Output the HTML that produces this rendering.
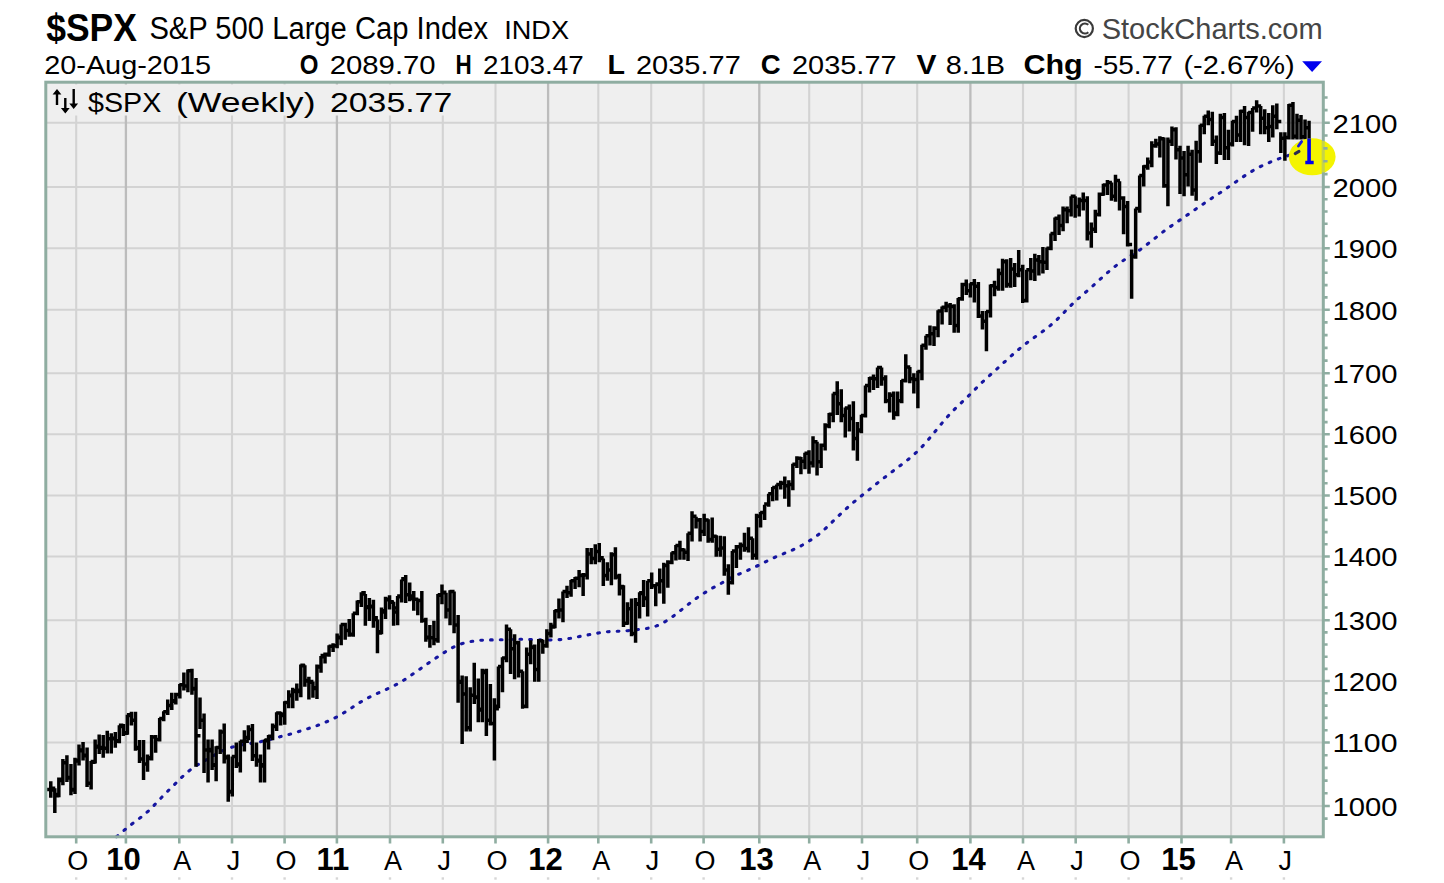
<!DOCTYPE html><html><head><meta charset="utf-8"><style>html,body{margin:0;padding:0;background:#fff;width:1444px;height:883px;overflow:hidden}svg{display:block}text{font-family:"Liberation Sans",sans-serif}</style></head><body>
<svg width="1444" height="883" viewBox="0 0 1444 883">
<rect x="0" y="0" width="1444" height="883" fill="#fff"/>
<rect x="45.8" y="82.2" width="1277.5" height="754.5999999999999" fill="#efefef"/>
<path d="M45.8 806.0H1323.3M45.8 742.5H1323.3M45.8 681.0H1323.3M45.8 620.2H1323.3M45.8 556.5H1323.3M45.8 495.5H1323.3M45.8 434.3H1323.3M45.8 373.3H1323.3M45.8 309.7H1323.3M45.8 248.2H1323.3M45.8 187.0H1323.3M45.8 122.7H1323.3" stroke="#d3d3d3" stroke-width="2.1" fill="none"/>
<path d="M76.2 82.2V836.8M179.3 82.2V836.8M232 82.2V836.8M284.6 82.2V836.8M390 82.2V836.8M442.8 82.2V836.8M495.5 82.2V836.8M598.3 82.2V836.8M651.2 82.2V836.8M703.6 82.2V836.8M809.2 82.2V836.8M862 82.2V836.8M917.2 82.2V836.8M1023 82.2V836.8M1075.7 82.2V836.8M1128.6 82.2V836.8M1231.1 82.2V836.8M1283.9 82.2V836.8" stroke="#d3d3d3" stroke-width="2.1" fill="none"/>
<path d="M125.9 82.2V836.8M336.9 82.2V836.8M548.1 82.2V836.8M759.3 82.2V836.8M970.4 82.2V836.8M1181.5 82.2V836.8" stroke="#bcbcbc" stroke-width="2.3" fill="none"/>
<rect x="48" y="84.5" width="410" height="31" fill="#efefef"/>
<polyline points="116.5,836.7 118.5,835.1 120.5,833.4 122.5,831.7 124.5,830.0 126.5,828.4 128.5,826.7 130.5,825.1 132.5,823.6 134.5,822.1 136.5,820.6 138.5,819.1 140.5,817.6 142.5,816.0 144.5,814.4 146.5,812.7 148.5,810.9 150.5,809.0 152.5,807.0 154.5,804.9 156.5,802.8 158.5,800.7 160.5,798.6 162.5,796.5 164.5,794.4 166.5,792.4 168.5,790.4 170.5,788.4 172.5,786.4 174.5,784.5 176.5,782.5 178.5,780.5 180.5,778.5 182.5,776.6 184.5,774.8 186.5,773.0 188.5,771.3 190.5,769.7 192.5,768.2 194.5,766.8 196.5,765.6 198.5,764.3 200.5,763.2 202.5,762.0 204.5,760.9 206.5,759.7 208.5,758.6 210.5,757.4 212.5,756.2 214.5,755.1 216.5,753.9 218.5,752.8 220.5,751.8 222.5,750.8 224.5,750.0 226.5,749.1 228.5,748.4 230.5,747.7 232.5,747.1 234.5,746.5 236.5,746.0 238.5,745.5 240.5,745.1 242.5,744.7 244.5,744.4 246.5,744.0 248.5,743.7 250.5,743.4 252.5,743.1 254.5,742.8 256.5,742.4 258.5,742.1 260.5,741.7 262.5,741.2 264.5,740.8 266.5,740.3 268.5,739.8 270.5,739.3 272.5,738.7 274.5,738.2 276.5,737.7 278.5,737.2 280.5,736.6 282.5,736.1 284.5,735.6 286.5,735.1 288.5,734.5 290.5,734.0 292.5,733.4 294.5,732.8 296.5,732.2 298.5,731.6 300.5,731.0 302.5,730.4 304.5,729.7 306.5,729.1 308.5,728.5 310.5,727.8 312.5,727.2 314.5,726.5 316.5,725.8 318.5,725.0 320.5,724.3 322.5,723.5 324.5,722.6 326.5,721.8 328.5,720.9 330.5,720.0 332.5,719.0 334.5,718.0 336.5,717.0 338.5,715.9 340.5,714.8 342.5,713.6 344.5,712.4 346.5,711.2 348.5,709.9 350.5,708.6 352.5,707.3 354.5,705.9 356.5,704.6 358.5,703.3 360.5,702.1 362.5,700.9 364.5,699.7 366.5,698.6 368.5,697.6 370.5,696.6 372.5,695.7 374.5,694.8 376.5,693.8 378.5,692.9 380.5,692.1 382.5,691.2 384.5,690.3 386.5,689.4 388.5,688.4 390.5,687.5 392.5,686.5 394.5,685.5 396.5,684.5 398.5,683.4 400.5,682.2 402.5,681.0 404.5,679.7 406.5,678.4 408.5,677.1 410.5,675.7 412.5,674.3 414.5,672.9 416.5,671.5 418.5,670.1 420.5,668.7 422.5,667.3 424.5,665.8 426.5,664.4 428.5,663.1 430.5,661.7 432.5,660.3 434.5,659.0 436.5,657.6 438.5,656.3 440.5,655.0 442.5,653.7 444.5,652.4 446.5,651.1 448.5,649.9 450.5,648.7 452.5,647.6 454.5,646.6 456.5,645.7 458.5,644.9 460.5,644.1 462.5,643.5 464.5,643.0 466.5,642.5 468.5,642.0 470.5,641.6 472.5,641.3 474.5,641.0 476.5,640.7 478.5,640.5 480.5,640.3 482.5,640.2 484.5,640.1 486.5,640.0 488.5,640.0 490.5,639.9 492.5,639.9 494.5,639.9 496.5,639.9 498.5,639.9 500.5,639.8 502.5,639.8 504.5,639.8 506.5,639.7 508.5,639.6 510.5,639.6 512.5,639.5 514.5,639.4 516.5,639.3 518.5,639.3 520.5,639.2 522.5,639.2 524.5,639.3 526.5,639.4 528.5,639.5 530.5,639.6 532.5,639.7 534.5,639.7 536.5,639.8 538.5,639.9 540.5,639.9 542.5,640.0 544.5,640.0 546.5,640.0 548.5,640.0 550.5,640.0 552.5,639.9 554.5,639.9 556.5,639.8 558.5,639.7 560.5,639.6 562.5,639.4 564.5,639.2 566.5,638.9 568.5,638.6 570.5,638.3 572.5,637.9 574.5,637.5 576.5,637.1 578.5,636.7 580.5,636.3 582.5,635.9 584.5,635.5 586.5,635.2 588.5,634.8 590.5,634.4 592.5,634.0 594.5,633.7 596.5,633.3 598.5,633.0 600.5,632.6 602.5,632.3 604.5,632.1 606.5,631.8 608.5,631.7 610.5,631.5 612.5,631.4 614.5,631.3 616.5,631.2 618.5,631.2 620.5,631.1 622.5,631.0 624.5,630.9 626.5,630.7 628.5,630.6 630.5,630.4 632.5,630.2 634.5,629.9 636.5,629.7 638.5,629.5 640.5,629.2 642.5,629.0 644.5,628.7 646.5,628.5 648.5,628.1 650.5,627.7 652.5,627.2 654.5,626.6 656.5,625.9 658.5,625.1 660.5,624.2 662.5,623.2 664.5,622.0 666.5,620.8 668.5,619.5 670.5,618.1 672.5,616.7 674.5,615.2 676.5,613.7 678.5,612.1 680.5,610.5 682.5,609.0 684.5,607.4 686.5,605.8 688.5,604.2 690.5,602.7 692.5,601.2 694.5,599.7 696.5,598.2 698.5,596.8 700.5,595.5 702.5,594.1 704.5,592.9 706.5,591.6 708.5,590.4 710.5,589.3 712.5,588.1 714.5,587.0 716.5,585.9 718.5,584.8 720.5,583.7 722.5,582.6 724.5,581.5 726.5,580.4 728.5,579.3 730.5,578.2 732.5,577.2 734.5,576.2 736.5,575.2 738.5,574.3 740.5,573.5 742.5,572.6 744.5,571.8 746.5,570.9 748.5,570.0 750.5,569.1 752.5,568.2 754.5,567.3 756.5,566.3 758.5,565.3 760.5,564.3 762.5,563.3 764.5,562.3 766.5,561.3 768.5,560.3 770.5,559.3 772.5,558.4 774.5,557.5 776.5,556.6 778.5,555.7 780.5,554.9 782.5,554.1 784.5,553.3 786.5,552.5 788.5,551.7 790.5,550.8 792.5,550.0 794.5,549.1 796.5,548.2 798.5,547.2 800.5,546.1 802.5,545.0 804.5,543.8 806.5,542.6 808.5,541.4 810.5,540.1 812.5,538.8 814.5,537.4 816.5,536.0 818.5,534.5 820.5,532.9 822.5,531.2 824.5,529.4 826.5,527.6 828.5,525.7 830.5,523.7 832.5,521.7 834.5,519.8 836.5,517.8 838.5,515.9 840.5,514.0 842.5,512.1 844.5,510.3 846.5,508.5 848.5,506.7 850.5,504.9 852.5,503.2 854.5,501.5 856.5,499.9 858.5,498.2 860.5,496.6 862.5,495.0 864.5,493.4 866.5,491.8 868.5,490.2 870.5,488.6 872.5,487.0 874.5,485.4 876.5,483.8 878.5,482.2 880.5,480.6 882.5,479.1 884.5,477.5 886.5,476.0 888.5,474.4 890.5,472.9 892.5,471.4 894.5,469.9 896.5,468.4 898.5,466.9 900.5,465.4 902.5,463.9 904.5,462.4 906.5,460.8 908.5,459.2 910.5,457.6 912.5,455.9 914.5,454.1 916.5,452.2 918.5,450.3 920.5,448.3 922.5,446.2 924.5,444.0 926.5,441.8 928.5,439.5 930.5,437.1 932.5,434.7 934.5,432.2 936.5,429.8 938.5,427.3 940.5,424.9 942.5,422.5 944.5,420.1 946.5,417.8 948.5,415.6 950.5,413.4 952.5,411.3 954.5,409.3 956.5,407.3 958.5,405.4 960.5,403.5 962.5,401.6 964.5,399.7 966.5,397.8 968.5,395.9 970.5,393.9 972.5,391.9 974.5,389.9 976.5,387.9 978.5,385.9 980.5,383.9 982.5,382.0 984.5,380.1 986.5,378.3 988.5,376.5 990.5,374.7 992.5,372.9 994.5,371.1 996.5,369.3 998.5,367.5 1000.5,365.7 1002.5,363.8 1004.5,362.0 1006.5,360.2 1008.5,358.3 1010.5,356.5 1012.5,354.8 1014.5,353.0 1016.5,351.3 1018.5,349.6 1020.5,347.9 1022.5,346.3 1024.5,344.7 1026.5,343.2 1028.5,341.6 1030.5,340.2 1032.5,338.7 1034.5,337.3 1036.5,335.9 1038.5,334.4 1040.5,333.0 1042.5,331.6 1044.5,330.1 1046.5,328.6 1048.5,327.0 1050.5,325.4 1052.5,323.6 1054.5,321.8 1056.5,320.0 1058.5,318.0 1060.5,316.0 1062.5,314.0 1064.5,312.0 1066.5,309.9 1068.5,307.9 1070.5,305.9 1072.5,303.9 1074.5,302.0 1076.5,300.2 1078.5,298.4 1080.5,296.6 1082.5,294.9 1084.5,293.2 1086.5,291.5 1088.5,289.7 1090.5,288.0 1092.5,286.2 1094.5,284.4 1096.5,282.6 1098.5,280.8 1100.5,278.9 1102.5,277.1 1104.5,275.3 1106.5,273.6 1108.5,271.8 1110.5,270.1 1112.5,268.5 1114.5,266.8 1116.5,265.3 1118.5,263.8 1120.5,262.4 1122.5,261.0 1124.5,259.7 1126.5,258.4 1128.5,257.2 1130.5,255.9 1132.5,254.7 1134.5,253.4 1136.5,252.1 1138.5,250.8 1140.5,249.4 1142.5,247.9 1144.5,246.4 1146.5,244.9 1148.5,243.3 1150.5,241.8 1152.5,240.2 1154.5,238.6 1156.5,237.0 1158.5,235.4 1160.5,233.8 1162.5,232.3 1164.5,230.8 1166.5,229.3 1168.5,227.9 1170.5,226.5 1172.5,225.1 1174.5,223.7 1176.5,222.4 1178.5,221.0 1180.5,219.7 1182.5,218.3 1184.5,217.0 1186.5,215.6 1188.5,214.2 1190.5,212.8 1192.5,211.4 1194.5,210.0 1196.5,208.6 1198.5,207.2 1200.5,205.8 1202.5,204.5 1204.5,203.1 1206.5,201.7 1208.5,200.4 1210.5,199.1 1212.5,197.7 1214.5,196.4 1216.5,195.1 1218.5,193.8 1220.5,192.5 1222.5,191.1 1224.5,189.8 1226.5,188.4 1228.5,187.0 1230.5,185.6 1232.5,184.2 1234.5,182.8 1236.5,181.4 1238.5,180.0 1240.5,178.6 1242.5,177.3 1244.5,175.9 1246.5,174.6 1248.5,173.4 1250.5,172.1 1252.5,170.9 1254.5,169.7 1256.5,168.6 1258.5,167.6 1260.5,166.5 1262.5,165.6 1264.5,164.6 1266.5,163.7 1268.5,162.9 1270.5,162.0 1272.5,161.2 1274.5,160.4 1276.5,159.7 1278.5,158.9 1280.5,158.2 1282.5,157.5 1284.5,156.8 1286.5,156.2 1288.5,155.5 1290.5,154.9 1292.5,154.3 1294.5,153.7 1296.5,153.2 1296.6,153.1" fill="none" stroke="#1616a0" stroke-width="3.1" stroke-linecap="round" stroke-dasharray="1.7 8.1"/>
<path d="M50.78 781.24V797.84M46.28 789.49H50.78M50.78 788.22H55.28M54.81 788.22V813.08M50.31 790.12H54.81M54.81 795.84H59.31M58.85 777.42V797.21M54.35 794.57H58.85M58.85 779.33H63.35M62.88 759.01V785.14M58.38 780.60H62.88M62.88 762.82H67.38M66.91 755.20V781.97M62.41 762.82H66.91M66.91 778.06H71.41M70.95 764.09V795.30M66.45 777.42H70.95M70.95 790.12H75.45M74.98 757.74V794.03M70.48 789.49H74.98M74.98 760.91H79.48M79.01 744.40V765.46M74.51 760.28H79.01M79.01 750.75H83.51M83.05 741.88V760.38M78.55 750.12H83.05M83.05 755.84H87.55M87.08 747.58V787.04M82.58 755.20H87.08M87.08 783.14H91.58M91.11 760.91V789.59M86.61 783.14H91.11M91.11 762.18H95.61M95.15 739.42V763.55M90.65 761.55H95.15M95.15 746.95H99.65M99.18 734.50V754.02M94.68 746.31H99.18M99.18 748.22H103.68M103.21 735.12V757.84M98.71 747.58H103.21M103.21 748.22H107.71M107.24 730.82V753.39M102.74 748.22H107.24M107.24 738.81H111.74M111.28 733.27V753.39M106.78 738.81H111.28M111.28 738.81H115.78M115.31 732.04V747.67M110.81 738.20H115.31M115.31 741.27H119.81M119.34 725.28V743.27M114.84 740.65H119.34M119.34 726.51H123.84M123.38 724.05V735.89M118.88 725.28H123.38M123.38 733.27H127.88M127.41 714.83V734.66M122.91 732.66H127.41M127.41 715.44H131.91M131.44 711.75V725.43M126.94 714.83H131.44M131.44 720.36H135.94M135.48 711.75V750.85M130.98 720.36H135.48M135.48 748.22H139.98M139.51 740.04V762.91M135.01 747.58H139.51M139.51 759.01H144.01M143.54 740.04V780.06M139.04 759.01H143.54M143.54 764.09H148.04M147.57 754.57V771.80M143.07 764.09H147.57M147.57 758.38H152.07M151.61 735.12V760.38M147.11 757.74H151.61M151.61 736.97H156.11M155.64 735.12V752.75M151.14 736.97H155.64M155.64 739.42H160.14M159.67 717.90V741.42M155.17 739.42H159.67M159.67 718.51H164.17M163.71 711.13V721.13M159.21 718.51H163.71M163.71 711.75H168.21M167.74 699.45V714.98M163.24 711.75H167.74M167.74 705.60H172.24M171.77 692.68V710.06M167.27 705.60H171.77M171.77 701.29H176.27M175.81 692.68V704.52M171.31 700.68H175.81M175.81 694.53H180.31M179.84 684.08V698.38M175.34 694.53H179.84M179.84 684.69H184.34M183.87 672.49V690.38M179.37 684.69H183.87M183.87 685.92H188.37M187.90 669.45V692.23M183.40 685.92H187.90M187.90 670.66H192.40M191.94 668.84V694.68M187.44 670.66H191.94M191.94 689.00H196.44M195.97 677.96V766.73M191.47 688.38H195.97M195.97 735.74H200.47M200.00 697.61V729.12M195.50 735.74H200.00M200.00 720.36H204.50M204.04 713.60V773.08M199.54 720.36H204.04M204.04 750.12H208.54M208.07 739.42V782.60M203.57 750.12H208.07M208.07 749.49H212.57M212.10 739.42V769.90M207.60 750.75H212.10M212.10 765.36H216.60M216.13 746.31V781.33M211.63 764.73H216.13M216.13 747.58H220.63M220.17 729.59V754.02M215.67 747.58H220.17M220.17 732.04H224.67M224.20 723.43V763.55M219.70 732.04H224.20M224.20 757.74H228.70M228.23 754.57V801.65M223.73 757.11H228.23M228.23 792.03H232.73M232.27 756.47V796.57M227.77 791.39H232.27M232.27 756.47H236.77M236.30 742.50V768.00M231.80 756.47H236.30M236.30 764.73H240.80M240.33 740.65V772.44M235.83 764.09H240.33M240.33 741.27H244.83M244.37 730.20V751.49M239.87 741.27H244.37M244.37 741.27H248.87M248.40 725.28V740.20M243.90 737.58H248.40M248.40 729.59H252.90M252.43 724.05V761.01M247.93 729.59H252.43M252.43 755.84H256.93M256.47 742.50V766.73M251.97 755.84H256.47M256.47 760.91H260.97M260.50 754.57V782.60M256.00 760.28H260.50M260.50 764.73H265.00M264.53 739.42V782.60M260.03 766.00H264.53M264.53 740.04H269.03M268.56 735.12V749.58M264.06 740.65H268.56M268.56 736.35H273.06M272.60 723.43V740.20M268.10 736.35H272.60M272.60 726.51H277.10M276.63 712.37V730.97M272.13 726.51H276.63M276.63 712.98H281.13M280.66 711.75V725.43M276.16 712.98H280.66M280.66 714.21H285.16M284.70 701.29V724.82M280.20 715.44H284.70M284.70 702.52H289.20M288.73 690.23V708.22M284.23 702.52H288.73M288.73 695.76H293.23M292.76 687.76V708.22M288.26 695.14H292.76M292.76 691.46H297.26M296.80 683.46V700.84M292.30 690.84H296.80M296.80 691.46H301.30M300.83 664.58V697.14M296.33 690.23H300.83M300.83 665.80H305.33M304.86 665.19V686.69M300.36 665.19H304.86M304.86 681.00H309.36M308.89 676.74V699.61M304.39 680.39H308.89M308.89 681.62H313.39M312.93 681.62V697.76M308.43 682.23H312.93M312.93 687.76H317.43M316.96 664.58V698.99M312.46 688.38H316.96M316.96 666.41H321.46M320.99 656.07V672.66M316.49 667.02H320.99M320.99 656.68H325.49M325.03 652.42V663.54M320.53 655.46H325.03M325.03 654.86H329.53M329.06 645.13V656.86M324.56 654.25H329.06M329.06 646.34H333.56M333.09 643.30V651.99M328.59 646.34H333.09M333.09 645.74H337.59M337.13 633.58V648.34M332.63 645.74H337.13M337.13 637.22H341.63M341.16 624.46V645.30M336.66 637.83H341.16M341.16 624.46H345.66M345.19 622.63V639.83M340.69 624.46H345.19M345.19 630.54H349.69M349.22 618.93V636.79M344.72 630.54H349.22M349.22 634.79H353.72M353.26 613.19V636.79M348.76 634.18H353.26M353.26 613.19H357.76M357.29 600.45V615.19M352.79 613.19H357.29M357.29 601.73H361.79M361.32 592.17V606.91M356.82 601.73H361.32M361.32 592.81H365.82M365.36 594.08V625.85M360.86 594.08H365.36M365.36 607.46H369.86M369.39 597.90V620.93M364.89 606.82H369.39M369.39 606.82H373.89M373.42 599.82V627.67M368.92 606.19H373.42M373.42 617.65H377.92M377.46 619.56V653.21M372.96 619.56H377.46M377.46 632.97H381.96M381.49 607.46V634.36M376.99 631.75H381.49M381.49 611.92H385.99M385.52 596.63V619.02M381.02 610.64H385.52M385.52 599.82H390.02M389.55 595.36V609.46M385.05 599.18H389.55M389.55 602.36H394.05M393.59 601.73V625.85M389.09 601.73H393.59M393.59 608.10H398.09M397.62 595.99V625.24M393.12 611.92H397.62M397.62 596.63H402.12M401.65 579.43V602.45M397.15 595.99H401.65M401.65 579.43H406.15M405.69 574.97V603.09M401.19 578.80H405.69M405.69 594.72H410.19M409.72 582.62V601.18M405.22 594.72H409.72M409.72 595.99H414.22M413.75 590.90V610.73M409.25 598.54H413.75M413.75 599.18H418.25M417.79 598.54V615.19M413.29 599.18H417.79M417.79 600.45H422.29M421.82 590.90V622.81M417.32 600.45H421.82M421.82 620.20H426.32M425.85 617.65V641.66M421.35 620.20H425.85M425.85 637.83H430.35M429.88 625.06V647.74M425.38 637.22H429.88M429.88 637.83H434.38M433.92 620.81V645.30M429.42 637.83H433.92M433.92 639.66H438.42M437.95 594.08V642.87M433.45 639.66H437.95M437.95 594.72H442.45M441.98 584.53V604.36M437.48 595.36H441.98M441.98 592.17H446.48M446.02 592.81V618.38M441.52 592.81H446.02M446.02 610.01H450.52M450.05 590.26V625.24M445.55 610.01H450.05M450.05 591.54H454.55M454.08 591.54V633.14M449.58 591.54H454.08M454.08 625.06H458.58M458.12 615.10V702.68M453.62 625.06H458.12M458.12 681.62H462.62M462.15 675.53V743.88M457.65 682.23H462.15M462.15 693.91H466.65M466.18 676.14V731.59M461.68 693.91H466.18M466.18 727.74H470.68M470.21 687.15V731.59M465.71 727.74H470.21M470.21 695.14H474.71M474.25 662.76V703.91M469.75 695.14H474.25M474.25 696.99H478.75M478.28 678.57V722.36M473.78 697.61H478.28M478.28 709.29H482.78M482.31 668.84V722.36M477.81 709.90H482.31M482.31 671.27H486.81M486.35 668.84V735.89M481.85 672.49H486.35M486.35 720.36H490.85M490.38 684.08V725.43M485.88 720.36H490.38M490.38 723.43H494.88M494.41 698.22V760.38M489.91 723.43H494.41M494.41 708.67H498.91M498.45 666.41V708.22M493.95 706.22H498.45M498.45 666.41H502.95M502.48 657.29V692.23M497.98 666.41H502.48M502.48 657.90H506.98M506.51 624.46V662.33M502.01 657.90H506.51M506.51 629.32H511.01M510.54 629.32V673.88M506.04 629.32H510.54M510.54 648.78H515.04M514.58 634.18V679.35M510.08 648.78H514.58M514.58 642.70H519.08M518.61 640.87V677.53M514.11 642.70H518.61M518.61 671.27H523.11M522.64 671.27V708.83M518.14 671.27H522.64M522.64 706.22H527.14M526.68 647.56V708.22M522.18 706.22H526.68M526.68 654.25H531.18M530.71 640.26V664.15M526.21 654.25H530.71M530.71 647.56H535.21M534.74 644.52V681.78M530.24 646.95H534.74M534.74 669.45H539.24M538.77 639.05V681.78M534.27 669.45H538.77M538.77 640.87H543.27M542.81 639.66V653.82M538.31 640.87H542.81M542.81 645.74H547.31M546.84 629.32V647.74M542.34 645.74H546.84M546.84 633.58H551.34M550.87 622.63V637.40M546.37 633.58H550.87M550.87 626.89H555.37M554.91 610.01V628.28M550.41 626.28H554.91M554.91 610.64H559.41M558.94 598.54V618.38M554.44 610.64H558.94M558.94 610.01H563.44M562.97 591.54V622.20M558.47 610.01H562.97M562.97 591.54H567.47M567.01 585.80V597.99M562.51 591.54H567.01M567.01 592.81H571.51M571.04 580.07V596.72M566.54 592.81H571.04M571.04 580.71H575.54M575.07 576.88V589.08M570.57 580.71H575.07M575.07 578.16H579.57M579.11 569.88V587.16M574.61 578.16H579.11M579.11 575.61H583.61M583.14 573.06V596.08M578.64 575.61H583.14M583.14 574.97H587.64M587.17 547.96V579.52M582.67 574.97H587.17M587.17 554.06H591.67M591.20 547.96V564.23M586.70 554.06H591.20M591.20 558.41H595.70M595.24 544.30V564.23M590.74 558.41H595.24M595.24 551.62H599.74M599.27 543.08V562.32M594.77 551.62H599.27M599.27 557.77H603.77M603.30 558.41V585.89M598.80 558.41H603.30M603.30 575.61H607.80M607.34 562.23V580.80M602.84 575.61H607.34M607.34 569.88H611.84M611.37 552.23V585.25M606.87 569.88H611.37M611.37 554.67H615.87M615.40 547.35V579.52M610.90 554.67H615.40M615.40 576.25H619.90M619.44 573.70V595.45M614.94 576.88H619.44M619.44 586.44H623.94M623.47 585.16V627.06M618.97 587.71H623.47M623.47 623.24H627.97M627.50 602.36V624.63M623.00 623.24H627.50M627.50 608.73H632.00M631.53 598.54V636.18M627.03 608.73H631.53M631.53 633.58H636.03M635.57 597.90V642.87M631.07 633.58H635.57M635.57 604.28H640.07M639.60 592.17V618.38M635.10 603.64H639.60M639.60 593.45H644.10M643.63 580.07V606.91M639.13 592.81H643.63M643.63 597.90H648.13M647.67 580.71V616.47M643.17 598.54H647.67M647.67 580.71H652.17M651.70 572.42V589.08M647.20 580.71H651.70M651.70 585.80H656.20M655.73 583.89V606.28M651.23 585.80H655.73M655.73 584.53H660.23M659.77 568.60V593.54M655.27 583.89H659.77M659.77 580.71H664.27M663.80 562.87V603.73M659.30 580.71H663.80M663.80 565.42H668.30M667.83 560.32V587.80M663.33 565.42H667.83M667.83 562.23H672.33M671.86 552.23V564.23M667.36 562.23H671.86M671.86 552.84H676.36M675.90 544.91V560.41M671.40 552.84H675.90M675.90 545.52H680.40M679.93 540.64V559.77M675.43 545.52H679.93M679.93 549.79H684.43M683.96 548.57V559.77M679.46 549.79H683.96M683.96 552.23H688.46M688.00 533.32V561.05M683.50 552.23H688.00M688.00 533.32H692.50M692.03 511.36V541.42M687.53 533.32H692.03M692.03 516.24H696.53M696.06 516.85V528.61M691.56 516.24H696.06M696.06 519.90H700.56M700.10 518.07V541.42M695.60 519.90H700.10M700.10 531.49H704.60M704.13 513.80V535.93M699.63 531.49H704.13M704.13 519.90H708.63M708.16 519.29V542.64M703.66 519.90H708.16M708.16 539.42H712.66M712.19 517.46V542.64M707.69 539.42H712.19M712.19 536.37H716.69M716.23 535.15V556.67M711.73 536.37H716.23M716.23 549.18H720.73M720.26 535.76V556.67M715.76 549.18H720.26M720.26 547.96H724.76M724.29 536.37V575.70M719.79 547.96H724.29M724.29 569.88H728.79M728.33 564.14V594.81M723.83 569.88H728.33M728.33 582.62H732.83M732.36 551.01V584.62M727.86 582.62H732.36M732.36 551.01H736.86M736.39 544.91V568.06M731.89 551.01H736.39M736.39 546.74H740.89M740.43 542.47V559.77M735.93 546.74H740.43M740.43 545.52H744.93M744.46 532.71V551.79M739.96 545.52H744.46M744.46 548.57H748.96M748.49 527.22V552.40M743.99 548.57H748.49M748.49 538.20H752.99M752.52 538.20V559.77M748.02 538.20H752.52M752.52 555.28H757.02M756.56 513.80V559.77M752.06 555.28H756.56M756.56 516.24H761.06M760.59 511.97V527.39M756.09 516.24H760.59M760.59 512.58H765.09M764.62 504.65V520.07M760.12 512.58H764.62M764.62 504.04H769.12M768.66 493.66V506.65M764.16 504.04H768.66M768.66 493.66H773.16M772.69 486.93V501.16M768.19 493.66H772.69M772.69 487.54H777.19M776.72 484.48V500.55M772.22 487.54H776.72M776.72 484.48H781.22M780.76 480.81V489.54M776.26 484.48H780.76M780.76 483.26H785.26M784.79 476.53V498.72M780.29 483.26H784.79M784.79 485.71H789.29M788.82 480.20V506.65M784.32 485.71H788.82M788.82 484.48H793.32M792.85 463.68V490.16M788.35 484.48H792.85M792.85 464.29H797.35M796.89 456.33V468.12M792.39 464.29H796.89M796.89 458.17H801.39M800.92 456.94V474.24M796.42 458.17H800.92M800.92 461.23H805.42M804.95 452.66V469.35M800.45 461.23H804.95M804.95 453.27H809.45M808.99 450.21V473.63M804.49 453.27H808.99M808.99 463.06H813.49M813.02 436.14V467.51M808.52 463.06H813.02M813.02 441.64H817.52M817.05 441.64V475.47M812.55 441.64H817.05M817.05 461.84H821.55M821.09 443.48V468.12M816.59 461.84H821.09M821.09 445.32H825.59M825.12 423.32V450.38M820.62 445.32H825.12M825.12 425.76H829.62M829.15 412.95V428.37M824.65 425.76H829.15M829.15 414.17H833.65M833.18 393.43V422.27M828.68 414.17H833.18M833.18 393.43H837.68M837.22 381.23V414.95M832.72 393.43H837.22M837.22 403.80H841.72M841.25 389.16V422.27M836.75 403.80H841.25M841.25 415.39H845.75M845.28 407.46V437.52M840.78 415.39H845.28M845.28 408.07H849.78M849.32 404.41V431.42M844.82 408.07H849.32M849.32 418.44H853.82M853.35 401.36V450.38M848.85 418.44H853.35M853.35 438.58H857.85M857.38 422.10V460.78M852.88 438.58H857.38M857.38 430.64H861.88M861.42 414.78V433.25M856.92 430.03H861.42M861.42 415.39H865.92M865.45 385.50V417.39M860.95 415.39H865.45M865.45 385.50H869.95M869.48 376.96V392.38M864.98 385.50H869.48M869.48 378.18H873.98M873.51 374.52V389.94M869.01 378.18H873.51M873.51 378.79H878.01M877.55 367.58V388.11M873.05 378.79H877.55M877.55 367.58H882.05M881.58 367.58V385.67M877.08 367.58H881.58M881.58 378.79H886.08M885.61 375.13V403.36M881.11 378.79H885.61M885.61 400.75H890.11M889.65 392.21V412.51M885.15 400.75H889.65M889.65 395.26H894.15M893.68 391.60V419.83M889.18 395.26H893.68M893.68 414.17H898.18M897.71 391.60V416.17M893.21 412.95H897.71M897.71 400.75H902.21M901.75 380.01V403.36M897.25 400.75H901.75M901.75 380.62H906.25M905.78 354.22V382.62M901.28 380.62H905.78M905.78 366.94H910.28M909.81 366.94V383.23M905.31 366.94H909.81M909.81 378.79H914.31M913.84 373.30V393.60M909.34 378.79H913.84M913.84 379.40H918.34M917.88 370.76V408.24M913.38 379.40H917.88M917.88 371.39H922.38M921.91 344.68V380.18M917.41 371.39H921.91M921.91 345.32H926.41M925.94 335.78V349.86M921.44 345.32H925.94M925.94 335.78H930.44M929.98 325.60V345.41M925.48 335.78H929.98M929.98 333.87H934.48M934.01 326.24V346.04M929.51 333.87H934.01M934.01 328.14H938.51M938.04 310.34V337.14M933.54 328.14H938.04M938.04 310.97H942.54M942.08 306.62V324.42M937.58 310.97H942.08M942.08 307.24H946.58M946.11 301.70V312.34M941.61 307.24H946.11M946.11 306.01H950.61M950.14 302.94V325.06M945.64 306.01H950.14M950.14 306.62H954.64M954.17 304.16V332.69M949.67 306.62H954.17M954.17 325.60H958.67M958.21 298.01V332.69M953.71 325.60H958.21M958.21 298.63H962.71M962.24 282.64V300.63M957.74 298.63H962.24M962.24 284.49H966.74M966.27 279.56V295.09M961.77 284.49H966.27M966.27 290.63H970.77M970.31 283.25V297.56M965.81 290.63H970.31M970.31 283.87H974.81M974.34 278.95V302.47M969.84 283.87H974.34M974.34 286.33H978.84M978.37 282.02V318.06M973.87 286.33H978.37M978.37 316.06H982.87M982.41 310.97V329.51M977.91 316.06H982.41M982.41 321.15H986.91M986.44 310.97V351.13M981.94 321.15H986.44M986.44 311.61H990.94M990.47 284.49V317.42M985.97 311.61H990.47M990.47 285.71H994.97M994.50 280.79V296.32M990.00 285.71H994.50M994.50 287.56H999.00M998.54 268.50V290.79M994.04 287.56H998.54M998.54 273.41H1003.04M1002.57 258.65V290.79M998.07 273.41H1002.57M1002.57 261.73H1007.07M1006.60 259.27V287.71M1002.10 261.73H1006.60M1006.60 284.49H1011.10M1010.64 258.04V287.71M1006.14 284.49H1010.64M1010.64 269.11H1015.14M1014.67 262.96V287.10M1010.17 269.11H1014.67M1014.67 274.64H1019.17M1018.70 250.04V277.26M1014.20 274.64H1018.70M1018.70 269.72H1023.20M1022.74 264.81V303.09M1018.24 269.72H1022.74M1022.74 300.47H1027.24M1026.77 269.72V302.47M1022.27 300.47H1026.77M1026.77 269.72H1031.27M1030.80 258.04V280.33M1026.30 269.72H1030.80M1030.80 270.95H1035.30M1034.83 253.73V280.95M1030.33 270.95H1034.83M1034.83 259.88H1039.33M1038.87 254.96V275.41M1034.37 259.88H1038.87M1038.87 261.73H1043.37M1042.90 246.98V273.57M1038.40 261.73H1042.90M1042.90 262.34H1047.40M1046.93 247.59V269.88M1042.43 262.34H1046.93M1046.93 248.20H1051.43M1050.97 233.51V250.20M1046.47 248.20H1050.97M1050.97 233.51H1055.47M1055.00 217.60V241.02M1050.50 233.51H1055.00M1055.00 218.21H1059.50M1059.03 214.54V234.90M1054.53 218.21H1059.03M1059.03 225.56H1063.53M1063.07 206.58V231.23M1058.57 225.56H1063.07M1063.07 209.64H1067.57M1067.10 206.58V223.27M1062.60 209.64H1067.10M1067.10 210.87H1071.60M1071.13 196.18V216.54M1066.63 210.87H1071.13M1071.13 196.18H1075.63M1075.16 196.18V217.76M1070.66 196.18H1075.16M1075.16 206.58H1079.66M1079.20 197.40V216.54M1074.70 206.58H1079.20M1079.20 200.46H1083.70M1083.23 192.51V210.42M1078.73 200.46H1083.23M1083.23 200.46H1087.73M1087.26 196.18V240.41M1082.76 200.46H1087.26M1087.26 232.90H1091.76M1091.30 222.50V247.75M1086.80 232.90H1091.30M1091.30 229.23H1095.80M1095.33 209.64V233.06M1090.83 229.23H1095.33M1095.33 214.54H1099.83M1099.36 192.51V216.54M1094.86 214.54H1099.36M1099.36 194.34H1103.86M1103.40 183.78V195.73M1098.90 194.34H1103.40M1103.40 185.07H1107.90M1107.43 179.93V195.12M1102.93 185.07H1107.43M1107.43 182.50H1111.93M1111.46 182.50V200.63M1106.96 182.50H1111.46M1111.46 196.18H1115.96M1115.49 174.78V201.85M1110.99 196.18H1115.49M1115.49 180.57H1119.99M1119.53 181.21V210.42M1115.03 180.57H1119.53M1119.53 198.02H1124.03M1123.56 196.18V234.29M1119.06 198.02H1123.56M1123.56 206.58H1128.06M1127.59 201.08V246.53M1123.09 206.58H1127.59M1127.59 244.53H1132.09M1131.63 249.43V298.78M1127.13 244.53H1131.63M1131.63 256.81H1136.13M1135.66 208.42V258.81M1131.16 256.81H1135.66M1135.66 208.42H1140.16M1139.69 175.43V212.87M1135.19 208.42H1139.69M1139.69 175.43H1144.19M1143.73 165.14V186.43M1139.23 175.43H1143.73M1143.73 166.42H1148.23M1147.76 157.42V169.71M1143.26 166.42H1147.76M1147.76 161.92H1152.26M1151.79 141.35V167.14M1147.29 161.92H1151.79M1151.79 145.85H1156.29M1155.82 138.78V147.85M1151.32 145.85H1155.82M1155.82 143.92H1160.32M1159.86 136.20V157.49M1155.36 143.92H1159.86M1159.86 138.78H1164.36M1163.89 137.49V187.71M1159.39 138.78H1163.89M1163.89 185.71H1168.39M1167.92 137.49V206.14M1163.42 185.71H1167.92M1167.92 141.35H1172.42M1171.96 126.56V145.92M1167.46 141.35H1171.96M1171.96 129.77H1176.46M1175.99 127.20V159.42M1171.49 129.77H1175.99M1175.99 149.71H1180.49M1180.02 145.85V193.90M1175.52 149.71H1180.02M1180.02 158.06H1184.52M1184.06 150.99V196.34M1179.56 158.06H1184.06M1184.06 174.78H1188.56M1188.09 145.85V186.43M1183.59 174.78H1188.09M1188.09 154.21H1192.59M1192.12 149.71V195.73M1187.62 154.21H1192.12M1192.12 190.06H1196.62M1196.15 140.70V200.63M1191.65 190.06H1196.15M1196.15 151.63H1200.65M1200.19 124.63V162.64M1195.69 151.63H1200.19M1200.19 125.27H1204.69M1204.22 115.63V134.34M1199.72 125.27H1204.22M1204.22 116.27H1208.72M1208.25 110.48V125.34M1203.75 116.27H1208.25M1208.25 119.48H1212.75M1212.29 111.77V145.92M1207.79 119.48H1212.29M1212.29 141.35H1216.79M1216.32 135.56V163.92M1211.82 141.35H1216.32M1216.32 152.92H1220.82M1220.35 113.70V154.92M1215.85 152.92H1220.35M1220.35 117.56H1224.85M1224.39 113.06V160.06M1219.89 117.56H1224.39M1224.39 147.78H1228.89M1228.42 129.77V160.06M1223.92 147.78H1228.42M1228.42 143.92H1232.92M1232.45 120.77V146.56M1227.95 143.92H1232.45M1232.45 121.41H1236.95M1236.48 115.63V142.06M1231.98 121.41H1236.48M1236.48 134.92H1240.98M1240.52 109.84V142.06M1236.02 134.92H1240.52M1240.52 111.13H1245.02M1244.55 105.98V145.28M1240.05 111.13H1244.55M1244.55 117.56H1249.05M1248.58 111.77V145.92M1244.08 117.56H1248.58M1248.58 112.41H1253.08M1252.62 107.91V131.77M1248.12 112.41H1252.62M1252.62 107.91H1257.12M1256.65 100.19V112.48M1252.15 107.91H1256.65M1256.65 105.98H1261.15M1260.68 105.98V134.34M1256.18 105.98H1260.68M1260.68 118.20H1265.18M1264.72 109.20V134.34M1260.22 118.20H1264.72M1264.72 127.84H1269.22M1268.75 113.06V142.06M1264.25 127.84H1268.75M1268.75 126.56H1273.25M1272.78 105.34V137.56M1268.28 126.56H1272.78M1272.78 116.27H1277.28M1276.81 103.41V129.20M1272.31 116.27H1276.81M1276.81 121.41H1281.31M1280.85 132.34V152.99M1276.35 121.41H1280.85M1280.85 138.13H1285.35M1284.88 132.34V160.71M1280.38 138.13H1284.88M1284.88 137.49H1289.38M1288.91 104.05V139.49M1284.41 137.49H1288.91M1288.91 105.34H1293.41M1292.95 102.12V139.49M1288.45 105.34H1292.95M1292.95 136.20H1297.45M1296.98 113.70V139.49M1292.48 136.20H1296.98M1296.98 120.13H1301.48M1301.01 114.98V139.49M1296.51 120.13H1301.01M1301.01 136.85H1305.51M1305.05 119.48V139.49M1300.55 136.85H1305.05M1305.05 127.84H1309.55" stroke="#000" stroke-width="3.5" fill="none"/>
<ellipse cx="1312.2" cy="156.8" rx="23.4" ry="18.5" fill="#f4f400"/>
<path d="M1295.2 153.6L1299 151.4" stroke="#2a2a50" stroke-width="3" stroke-linecap="round"/>
<path d="M1298.4 146L1301.6 141.6" stroke="#1a1ae0" stroke-width="2.8" stroke-linecap="round"/>
<path d="M1309.08 120.77V138.6" stroke="#000" stroke-width="3.4" fill="none"/>
<path d="M1309.08 138.6V163.85M1305.28 162.55H1313.68" stroke="#0000f0" stroke-width="3.6" fill="none"/>
<rect x="45.8" y="82.2" width="1277.5" height="754.5999999999999" fill="none" stroke="#8fada1" stroke-width="3"/>
<rect x="1321.6" y="141" width="3.4" height="31.5" fill="#f4f400" opacity="0.55"/>
<path d="M1323.3 806.0H1329.8M1323.3 793.30H1327.6M1323.3 780.60H1327.6M1323.3 767.90H1327.6M1323.3 755.20H1327.6M1323.3 742.5H1329.8M1323.3 730.20H1327.6M1323.3 717.90H1327.6M1323.3 705.60H1327.6M1323.3 693.30H1327.6M1323.3 681.0H1329.8M1323.3 668.84H1327.6M1323.3 656.68H1327.6M1323.3 644.52H1327.6M1323.3 632.36H1327.6M1323.3 620.2H1329.8M1323.3 607.46H1327.6M1323.3 594.72H1327.6M1323.3 581.98H1327.6M1323.3 569.24H1327.6M1323.3 556.5H1329.8M1323.3 544.30H1327.6M1323.3 532.10H1327.6M1323.3 519.90H1327.6M1323.3 507.70H1327.6M1323.3 495.5H1329.8M1323.3 483.26H1327.6M1323.3 471.02H1327.6M1323.3 458.78H1327.6M1323.3 446.54H1327.6M1323.3 434.3H1329.8M1323.3 422.10H1327.6M1323.3 409.90H1327.6M1323.3 397.70H1327.6M1323.3 385.50H1327.6M1323.3 373.3H1329.8M1323.3 360.58H1327.6M1323.3 347.86H1327.6M1323.3 335.14H1327.6M1323.3 322.42H1327.6M1323.3 309.7H1329.8M1323.3 297.40H1327.6M1323.3 285.10H1327.6M1323.3 272.80H1327.6M1323.3 260.50H1327.6M1323.3 248.2H1329.8M1323.3 235.96H1327.6M1323.3 223.72H1327.6M1323.3 211.48H1327.6M1323.3 199.24H1327.6M1323.3 187.0H1329.8M1323.3 174.14H1327.6M1323.3 161.28H1327.6M1323.3 148.42H1327.6M1323.3 135.56H1327.6M1323.3 122.7H1329.8M1323.3 110.10H1327.6M1323.3 97.50H1327.6M1323.3 818.60H1327.6" stroke="#8fada1" stroke-width="2.6" fill="none"/>
<path d="M76.2 836.8V843.5M125.9 836.8V843.5M179.3 836.8V843.5M232 836.8V843.5M284.6 836.8V843.5M336.9 836.8V843.5M390 836.8V843.5M442.8 836.8V843.5M495.5 836.8V843.5M548.1 836.8V843.5M598.3 836.8V843.5M651.2 836.8V843.5M703.6 836.8V843.5M759.3 836.8V843.5M809.2 836.8V843.5M862 836.8V843.5M917.2 836.8V843.5M970.4 836.8V843.5M1023 836.8V843.5M1075.7 836.8V843.5M1128.6 836.8V843.5M1181.5 836.8V843.5M1231.1 836.8V843.5M1283.9 836.8V843.5" stroke="#8fada1" stroke-width="2.6" fill="none"/>
<rect x="75.0" y="877.3" width="2.4" height="2.4" fill="#d6d6d6"/><rect x="124.7" y="877.3" width="2.4" height="2.4" fill="#d6d6d6"/><rect x="178.10000000000002" y="877.3" width="2.4" height="2.4" fill="#d6d6d6"/><rect x="230.8" y="877.3" width="2.4" height="2.4" fill="#d6d6d6"/><rect x="283.40000000000003" y="877.3" width="2.4" height="2.4" fill="#d6d6d6"/><rect x="335.7" y="877.3" width="2.4" height="2.4" fill="#d6d6d6"/><rect x="388.8" y="877.3" width="2.4" height="2.4" fill="#d6d6d6"/><rect x="441.6" y="877.3" width="2.4" height="2.4" fill="#d6d6d6"/><rect x="494.3" y="877.3" width="2.4" height="2.4" fill="#d6d6d6"/><rect x="546.9" y="877.3" width="2.4" height="2.4" fill="#d6d6d6"/><rect x="597.0999999999999" y="877.3" width="2.4" height="2.4" fill="#d6d6d6"/><rect x="650.0" y="877.3" width="2.4" height="2.4" fill="#d6d6d6"/><rect x="702.4" y="877.3" width="2.4" height="2.4" fill="#d6d6d6"/><rect x="758.0999999999999" y="877.3" width="2.4" height="2.4" fill="#d6d6d6"/><rect x="808.0" y="877.3" width="2.4" height="2.4" fill="#d6d6d6"/><rect x="860.8" y="877.3" width="2.4" height="2.4" fill="#d6d6d6"/><rect x="916.0" y="877.3" width="2.4" height="2.4" fill="#d6d6d6"/><rect x="969.1999999999999" y="877.3" width="2.4" height="2.4" fill="#d6d6d6"/><rect x="1021.8" y="877.3" width="2.4" height="2.4" fill="#d6d6d6"/><rect x="1074.5" y="877.3" width="2.4" height="2.4" fill="#d6d6d6"/><rect x="1127.3999999999999" y="877.3" width="2.4" height="2.4" fill="#d6d6d6"/><rect x="1180.3" y="877.3" width="2.4" height="2.4" fill="#d6d6d6"/><rect x="1229.8999999999999" y="877.3" width="2.4" height="2.4" fill="#d6d6d6"/><rect x="1282.7" y="877.3" width="2.4" height="2.4" fill="#d6d6d6"/>
<text x="1332.5" y="815.9" font-size="26.5" textLength="65" lengthAdjust="spacingAndGlyphs">1000</text>
<text x="1332.5" y="752.4" font-size="26.5" textLength="65" lengthAdjust="spacingAndGlyphs">1100</text>
<text x="1332.5" y="690.9" font-size="26.5" textLength="65" lengthAdjust="spacingAndGlyphs">1200</text>
<text x="1332.5" y="630.1" font-size="26.5" textLength="65" lengthAdjust="spacingAndGlyphs">1300</text>
<text x="1332.5" y="566.4" font-size="26.5" textLength="65" lengthAdjust="spacingAndGlyphs">1400</text>
<text x="1332.5" y="505.4" font-size="26.5" textLength="65" lengthAdjust="spacingAndGlyphs">1500</text>
<text x="1332.5" y="444.2" font-size="26.5" textLength="65" lengthAdjust="spacingAndGlyphs">1600</text>
<text x="1332.5" y="383.2" font-size="26.5" textLength="65" lengthAdjust="spacingAndGlyphs">1700</text>
<text x="1332.5" y="319.6" font-size="26.5" textLength="65" lengthAdjust="spacingAndGlyphs">1800</text>
<text x="1332.5" y="258.1" font-size="26.5" textLength="65" lengthAdjust="spacingAndGlyphs">1900</text>
<text x="1332.5" y="196.9" font-size="26.5" textLength="65" lengthAdjust="spacingAndGlyphs">2000</text>
<text x="1332.5" y="132.6" font-size="26.5" textLength="65" lengthAdjust="spacingAndGlyphs">2100</text>
<text x="77.7" y="869.5" font-size="27" text-anchor="middle">O</text>
<text x="123.5" y="869.5" font-size="31" font-weight="bold" text-anchor="middle">10</text>
<text x="182.3" y="869.5" font-size="27" text-anchor="middle">A</text>
<text x="233.4" y="869.5" font-size="27" text-anchor="middle">J</text>
<text x="286.1" y="869.5" font-size="27" text-anchor="middle">O</text>
<text x="332.9" y="869.5" font-size="31" font-weight="bold" text-anchor="middle">11</text>
<text x="393.0" y="869.5" font-size="27" text-anchor="middle">A</text>
<text x="444.2" y="869.5" font-size="27" text-anchor="middle">J</text>
<text x="497.0" y="869.5" font-size="27" text-anchor="middle">O</text>
<text x="545.6" y="869.5" font-size="31" font-weight="bold" text-anchor="middle">12</text>
<text x="601.3" y="869.5" font-size="27" text-anchor="middle">A</text>
<text x="652.6" y="869.5" font-size="27" text-anchor="middle">J</text>
<text x="705.1" y="869.5" font-size="27" text-anchor="middle">O</text>
<text x="756.5" y="869.5" font-size="31" font-weight="bold" text-anchor="middle">13</text>
<text x="812.2" y="869.5" font-size="27" text-anchor="middle">A</text>
<text x="863.4" y="869.5" font-size="27" text-anchor="middle">J</text>
<text x="918.7" y="869.5" font-size="27" text-anchor="middle">O</text>
<text x="968.6" y="869.5" font-size="31" font-weight="bold" text-anchor="middle">14</text>
<text x="1026.0" y="869.5" font-size="27" text-anchor="middle">A</text>
<text x="1077.1000000000001" y="869.5" font-size="27" text-anchor="middle">J</text>
<text x="1130.1" y="869.5" font-size="27" text-anchor="middle">O</text>
<text x="1178.6" y="869.5" font-size="31" font-weight="bold" text-anchor="middle">15</text>
<text x="1234.1" y="869.5" font-size="27" text-anchor="middle">A</text>
<text x="1285.3000000000002" y="869.5" font-size="27" text-anchor="middle">J</text>
<text x="46.2" y="41.4" font-size="38.5" font-weight="bold" fill="#000" textLength="90.8" lengthAdjust="spacingAndGlyphs">$SPX</text>
<text x="149.4" y="38.9" font-size="31" fill="#000" textLength="338.6" lengthAdjust="spacingAndGlyphs">S&amp;P 500 Large Cap Index</text>
<text x="504.2" y="38.6" font-size="25" fill="#000" textLength="64.8" lengthAdjust="spacingAndGlyphs">INDX</text>
<text x="1101.7" y="38.7" font-size="29.5" fill="#454545" textLength="221.0" lengthAdjust="spacingAndGlyphs">StockCharts.com</text>
<circle cx="1084.3" cy="28.5" r="8.6" fill="none" stroke="#3a3a3a" stroke-width="2.2"/><path d="M1088.3 24.8A5 5 0 1 0 1088.3 32.2" fill="none" stroke="#3a3a3a" stroke-width="2.2"/>
<text x="44.2" y="73.8" font-size="25" fill="#000" textLength="166.8" lengthAdjust="spacingAndGlyphs">20-Aug-2015</text>
<text x="299.8" y="73.8" font-size="28.5" font-weight="bold" fill="#000" textLength="18.7" lengthAdjust="spacingAndGlyphs">O</text>
<text x="329.7" y="73.8" font-size="25" fill="#000" textLength="106.0" lengthAdjust="spacingAndGlyphs">2089.70</text>
<text x="455.6" y="73.8" font-size="28.5" font-weight="bold" fill="#000" textLength="16.2" lengthAdjust="spacingAndGlyphs">H</text>
<text x="483" y="73.8" font-size="25" fill="#000" textLength="100.7" lengthAdjust="spacingAndGlyphs">2103.47</text>
<text x="607.4" y="73.8" font-size="28.5" font-weight="bold" fill="#000" textLength="17.5" lengthAdjust="spacingAndGlyphs">L</text>
<text x="636" y="73.8" font-size="25" fill="#000" textLength="104.8" lengthAdjust="spacingAndGlyphs">2035.77</text>
<text x="760.8" y="73.8" font-size="28.5" font-weight="bold" fill="#000" textLength="19.9" lengthAdjust="spacingAndGlyphs">C</text>
<text x="792" y="73.8" font-size="25" fill="#000" textLength="104.6" lengthAdjust="spacingAndGlyphs">2035.77</text>
<text x="916.6" y="73.8" font-size="28.5" font-weight="bold" fill="#000" textLength="20.0" lengthAdjust="spacingAndGlyphs">V</text>
<text x="945.7" y="73.8" font-size="25" fill="#000" textLength="59.4" lengthAdjust="spacingAndGlyphs">8.1B</text>
<text x="1023.4" y="73.8" font-size="28.5" font-weight="bold" fill="#000" textLength="59.4" lengthAdjust="spacingAndGlyphs">Chg</text>
<text x="1093.5" y="73.8" font-size="25" fill="#000" textLength="79.2" lengthAdjust="spacingAndGlyphs">-55.77</text>
<text x="1183.4" y="73.8" font-size="25" fill="#000" textLength="111.2" lengthAdjust="spacingAndGlyphs">(-2.67%)</text>
<path d="M1302.2 61.3H1322L1312.1 72Z" fill="#0000ee"/>
<text x="88" y="111.6" font-size="27" fill="#000" textLength="73.3" lengthAdjust="spacingAndGlyphs">$SPX</text>
<text x="175.9" y="111.6" font-size="27" fill="#000" textLength="139.6" lengthAdjust="spacingAndGlyphs">(Weekly)</text>
<text x="330" y="111.6" font-size="27" fill="#000" textLength="122.2" lengthAdjust="spacingAndGlyphs">2035.77</text>
<path d="M57 105V91M65.3 98V112M73.7 89V107" stroke="#000" stroke-width="2.4"/><path d="M52.6 94.5L57 89L61.4 94.5ZM60.9 108L65.3 113.5L69.7 108ZM69.3 103.5L73.7 109L78.1 103.5Z" fill="#000"/>
</svg></body></html>
